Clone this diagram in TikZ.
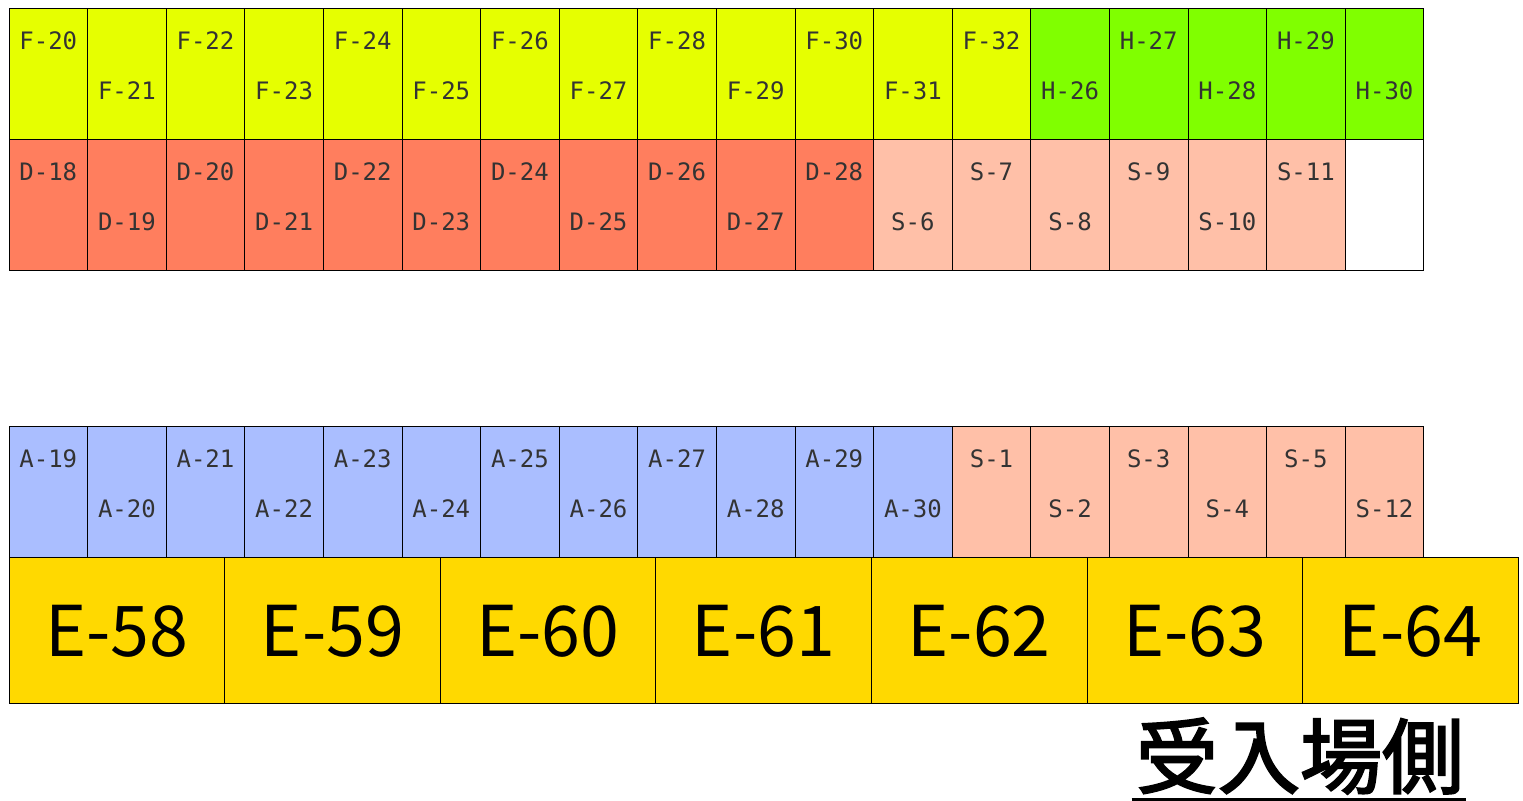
\documentclass[tikz,border=0pt]{standalone}
\usepackage{fontspec}
\usepackage{xcolor}
\usepackage{tikz}
\usetikzlibrary{positioning}
\newfontfamily\tagfont{DejaVu Sans Mono}
\newfontfamily\bigfont{Noto Sans CJK JP}
\newfontfamily\jpfont[AutoFakeBold=2.5]{Noto Sans CJK JP}
\definecolor{fyellow}{RGB}{230,255,0}
\definecolor{hgreen}{RGB}{128,255,0}
\definecolor{dsalmon}{RGB}{255,126,94}
\definecolor{speach}{RGB}{255,192,168}
\definecolor{ablue}{RGB}{170,190,255}
\definecolor{egold}{RGB}{255,217,0}

\begin{document}
\begin{tikzpicture}[
  x=0.5pt, y=-0.5pt,
  cell/.style={draw=black, line width=0.5pt, outer sep=0pt, inner sep=0pt,
               minimum width=39.3pt, minimum height=65.5pt},
  tag/.style={font=\tagfont\fontsize{12}{14}\selectfont, text=black!80, inner sep=0pt},
  cellup/.style={label={[tag, anchor=center, yshift=-16pt]north:#1}},
  celldn/.style={label={[tag, anchor=center, yshift=-41pt]north:#1}},
  fcell/.style={cell, fill=fyellow},
  hcell/.style={cell, fill=hgreen},
  dcell/.style={cell, fill=dsalmon},
  scell/.style={cell, fill=speach},
  acell/.style={cell, fill=ablue},
  ecell/.style={draw=black, line width=0.5pt, outer sep=0pt, inner sep=0pt, fill=egold,
                minimum width=107.8pt, minimum height=73pt,
                font=\bigfont\fontsize{35}{37}\selectfont}
]
\useasboundingbox (0,0) rectangle (1523,801);

% ===== upper block: F / H row =====
\node[fcell, cellup=F-20, anchor=north west] (f20) at (9,9) {};
\node[fcell, celldn=F-21, right=0pt of f20] (f21) {};
\node[fcell, cellup=F-22, right=0pt of f21] (f22) {};
\node[fcell, celldn=F-23, right=0pt of f22] (f23) {};
\node[fcell, cellup=F-24, right=0pt of f23] (f24) {};
\node[fcell, celldn=F-25, right=0pt of f24] (f25) {};
\node[fcell, cellup=F-26, right=0pt of f25] (f26) {};
\node[fcell, celldn=F-27, right=0pt of f26] (f27) {};
\node[fcell, cellup=F-28, right=0pt of f27] (f28) {};
\node[fcell, celldn=F-29, right=0pt of f28] (f29) {};
\node[fcell, cellup=F-30, right=0pt of f29] (f30) {};
\node[fcell, celldn=F-31, right=0pt of f30] (f31) {};
\node[fcell, cellup=F-32, right=0pt of f31] (f32) {};
\node[hcell, celldn=H-26, right=0pt of f32] (h26) {};
\node[hcell, cellup=H-27, right=0pt of h26] (h27) {};
\node[hcell, celldn=H-28, right=0pt of h27] (h28) {};
\node[hcell, cellup=H-29, right=0pt of h28] (h29) {};
\node[hcell, celldn=H-30, right=0pt of h29] (h30) {};

% ===== upper block: D / S row =====
\node[dcell, cellup=D-18, below=0pt of f20] (d18) {};
\node[dcell, celldn=D-19, right=0pt of d18] (d19) {};
\node[dcell, cellup=D-20, right=0pt of d19] (d20) {};
\node[dcell, celldn=D-21, right=0pt of d20] (d21) {};
\node[dcell, cellup=D-22, right=0pt of d21] (d22) {};
\node[dcell, celldn=D-23, right=0pt of d22] (d23) {};
\node[dcell, cellup=D-24, right=0pt of d23] (d24) {};
\node[dcell, celldn=D-25, right=0pt of d24] (d25) {};
\node[dcell, cellup=D-26, right=0pt of d25] (d26) {};
\node[dcell, celldn=D-27, right=0pt of d26] (d27) {};
\node[dcell, cellup=D-28, right=0pt of d27] (d28) {};
\node[scell, celldn=S-6, right=0pt of d28] (s6) {};
\node[scell, cellup=S-7, right=0pt of s6] (s7) {};
\node[scell, celldn=S-8, right=0pt of s7] (s8) {};
\node[scell, cellup=S-9, right=0pt of s8] (s9) {};
\node[scell, celldn=S-10, right=0pt of s9] (s10) {};
\node[scell, cellup=S-11, right=0pt of s10] (s11) {};
\node[cell, fill=white, right=0pt of s11] (blank) {};

% ===== lower block: A / S row =====
\node[acell, cellup=A-19, anchor=north west] (a19) at (9,427) {};
\node[acell, celldn=A-20, right=0pt of a19] (a20) {};
\node[acell, cellup=A-21, right=0pt of a20] (a21) {};
\node[acell, celldn=A-22, right=0pt of a21] (a22) {};
\node[acell, cellup=A-23, right=0pt of a22] (a23) {};
\node[acell, celldn=A-24, right=0pt of a23] (a24) {};
\node[acell, cellup=A-25, right=0pt of a24] (a25) {};
\node[acell, celldn=A-26, right=0pt of a25] (a26) {};
\node[acell, cellup=A-27, right=0pt of a26] (a27) {};
\node[acell, celldn=A-28, right=0pt of a27] (a28) {};
\node[acell, cellup=A-29, right=0pt of a28] (a29) {};
\node[acell, celldn=A-30, right=0pt of a29] (a30) {};
\node[scell, cellup=S-1, right=0pt of a30] (s1) {};
\node[scell, celldn=S-2, right=0pt of s1] (s2) {};
\node[scell, cellup=S-3, right=0pt of s2] (s3) {};
\node[scell, celldn=S-4, right=0pt of s3] (s4) {};
\node[scell, cellup=S-5, right=0pt of s4] (s5) {};
\node[scell, celldn=S-12, right=0pt of s5] (s12) {};

% ===== lower block: E row =====
\node[ecell, anchor=north west] (e58) at (a19.south west) {E-58};
\node[ecell, right=0pt of e58] (e59) {E-59};
\node[ecell, right=0pt of e59] (e60) {E-60};
\node[ecell, right=0pt of e60] (e61) {E-61};
\node[ecell, right=0pt of e61] (e62) {E-62};
\node[ecell, right=0pt of e62] (e63) {E-63};
\node[ecell, right=0pt of e63] (e64) {E-64};

% receiving side
\node[font=\jpfont\bfseries\fontsize{41}{44}\selectfont, inner sep=0pt] (side) at (1300,756) {受入場側};
\draw[line width=2pt] ([xshift=-2pt,yshift=-3pt]side.south west) -- ([xshift=1pt,yshift=-3pt]side.south east);

\end{tikzpicture}
\end{document}
